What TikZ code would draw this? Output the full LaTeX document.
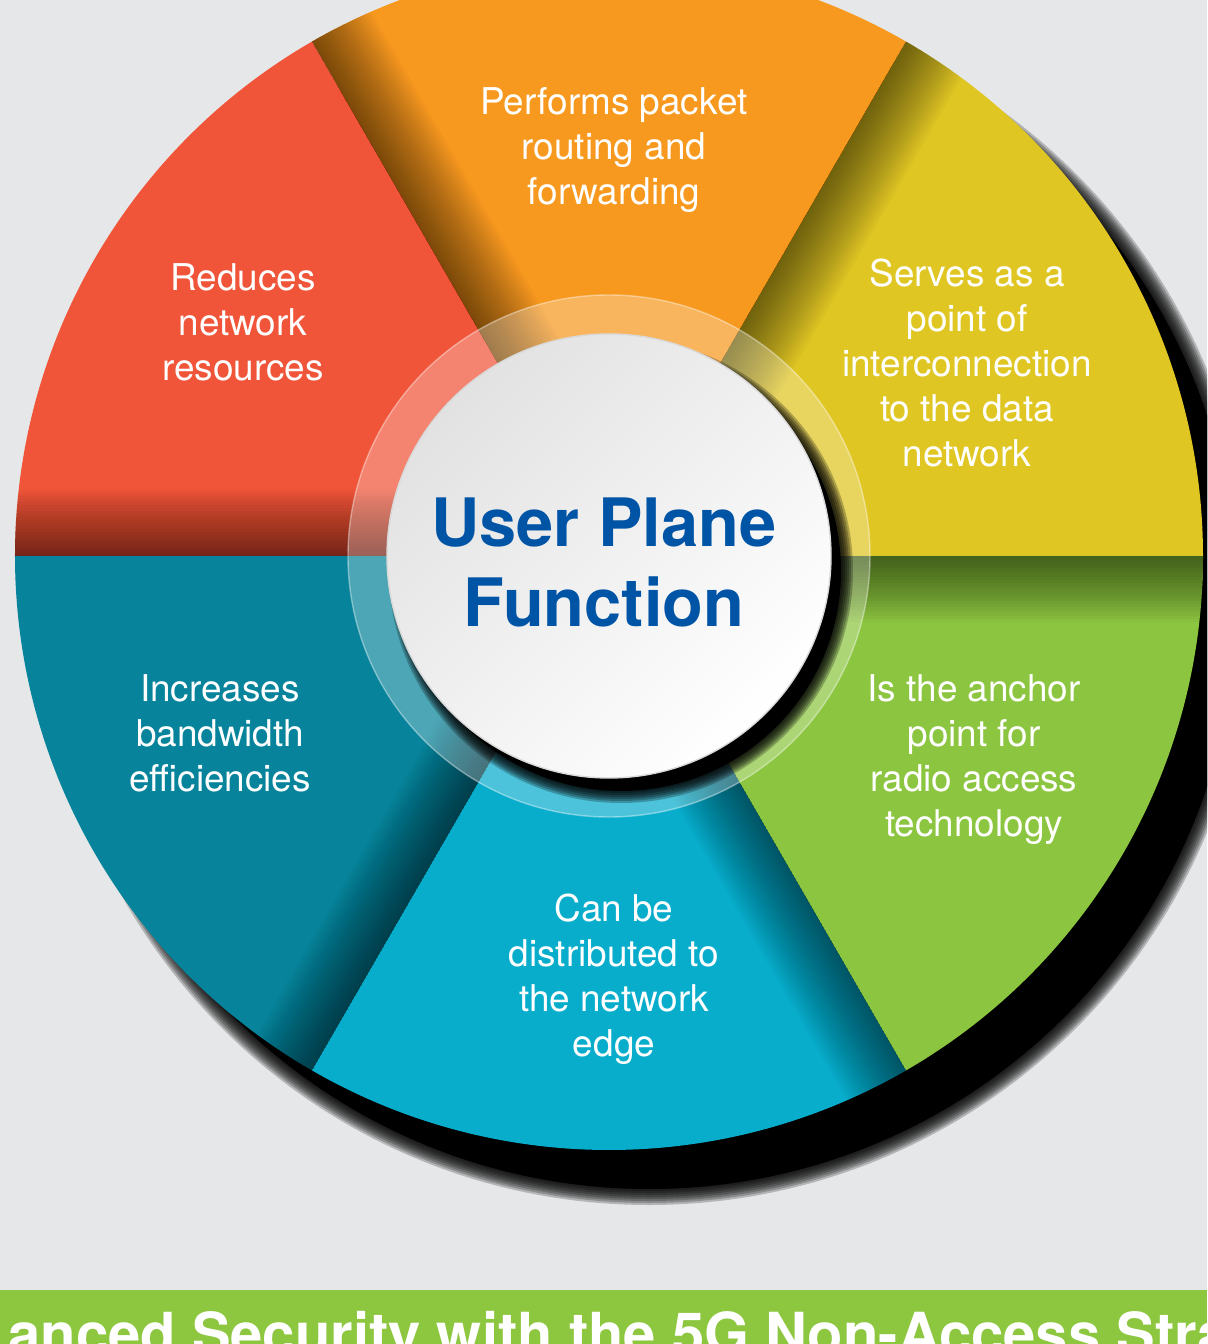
\documentclass[tikz,border=0pt]{standalone}
\usepackage{fontspec}
\setmainfont{TeX Gyre Heros}

\begin{document}
\begin{tikzpicture}[
  x=0.02cm, y=0.02cm,
  note/.style={text=white, align=center, inner sep=0pt,
    font=\fontsize{21}{25.6}\selectfont},
]
\definecolor{cBack}  {HTML}{E6E7E8}   % page grey
\definecolor{cYellow}{HTML}{E0C623}
\definecolor{cOrange}{HTML}{F8991F}
\definecolor{cRed}   {HTML}{F05539}
\definecolor{cTeal}  {HTML}{07849B}
\definecolor{cCyan}  {HTML}{08ADCC}
\definecolor{cGreen} {HTML}{8CC540}
\definecolor{cBar}   {HTML}{8DC63F}   % footer strip
\definecolor{cTitle} {HTML}{0054A6}
\definecolor{cDisc}  {HTML}{E2E2E2}   % top-left tone of the centre disc

\pgfmathsetmacro{\R}{594}    % wheel radius
\pgfmathsetmacro{\rD}{222}   % centre disc radius
\pgfmathsetmacro{\rG}{261}   % glass ring radius

% =====================================================================
% Canvas (origin = wheel centre)
% =====================================================================
\useasboundingbox (-609,-788) rectangle (598,556);
\clip (-609,-788) rectangle (598,556);
\fill[cBack] (-609,-788) rectangle (598,556);

% soft drop shadow below the wheel
\fill[black] (40,-45) circle (588);
\foreach \r in {590,592,...,604}{
  \fill[black, opacity=0.22] (40,-45) circle (\r);
}

% =====================================================================
% Six coloured sectors, counter-clockwise from 3 o'clock
% =====================================================================
\foreach \a/\col in {0/cYellow, 60/cOrange, 120/cRed,
                     180/cTeal, 240/cCyan, 300/cGreen}{
  \fill[\col] (0,0) -- (\a:\R) arc[start angle=\a, delta angle=60, radius=\R] -- cycle;
}

% darkening along the leading edge of every sector
\foreach \a in {0,60,...,300}{
  \begin{scope}
    \clip (0,0) -- (\a:\R) arc[start angle=\a, delta angle=60, radius=\R] -- cycle;
    \begin{scope}[rotate=\a+60]
      \foreach \d in {3,6,...,66}{
        \fill[black, opacity=0.026] (0,0) rectangle (\R,-\d);
      }
    \end{scope}
  \end{scope}
}

% =====================================================================
% Glass ring + centre disc
% =====================================================================
\fill[white, opacity=0.28] (0,0) circle (\rG);
\draw[white, opacity=0.4, line width=0.8pt] (0,0) circle (\rG);

% disc shadow
\fill[black] (12,-15) circle (220);
\foreach \r in {222,224,...,232}{
  \fill[black, opacity=0.25] (12,-15) circle (\r);
}

\shade[top color=cDisc, bottom color=white, shading angle=45] (0,0) circle (\rD);
\draw[black!15, line width=0.8pt] (0,0) circle (\rD);

\node[text=cTitle, align=center, inner sep=0pt,
      font=\bfseries\fontsize{38}{45.5}\selectfont] (nUpf) at (-5,-6)
  {User Plane\\Function};

% =====================================================================
% Sector labels
% =====================================================================
\node[note] (nPacket) at (5,406)    {Performs packet\\routing and\\forwarding};
\node[note] (nPoint)  at (358,193)  {Serves as a\\point of\\interconnection\\to the data\\network};
\node[note] (nReduce) at (-366,234) {Reduces\\network\\resources};
\node[note] (nBand)   at (-389,-177){Increases\\bandwidth\\efficiencies};
\node[note] (nEdge)   at (5,-423)   {Can be\\distributed to\\the network\\edge};
\node[note] (nAnchor) at (365,-204) {Is the anchor\\point for\\radio access\\technology};

% =====================================================================
% Footer strip
% =====================================================================
\fill[cBar] (-609,-734) rectangle (598,-788);
\node[anchor=base west, inner sep=0pt, text=white,
      font=\bfseries\fontsize{33}{40}\selectfont] (nFooter) at (-601,-798)
  {anced Security with the 5G Non-Access Stra};

\end{tikzpicture}
\end{document}
